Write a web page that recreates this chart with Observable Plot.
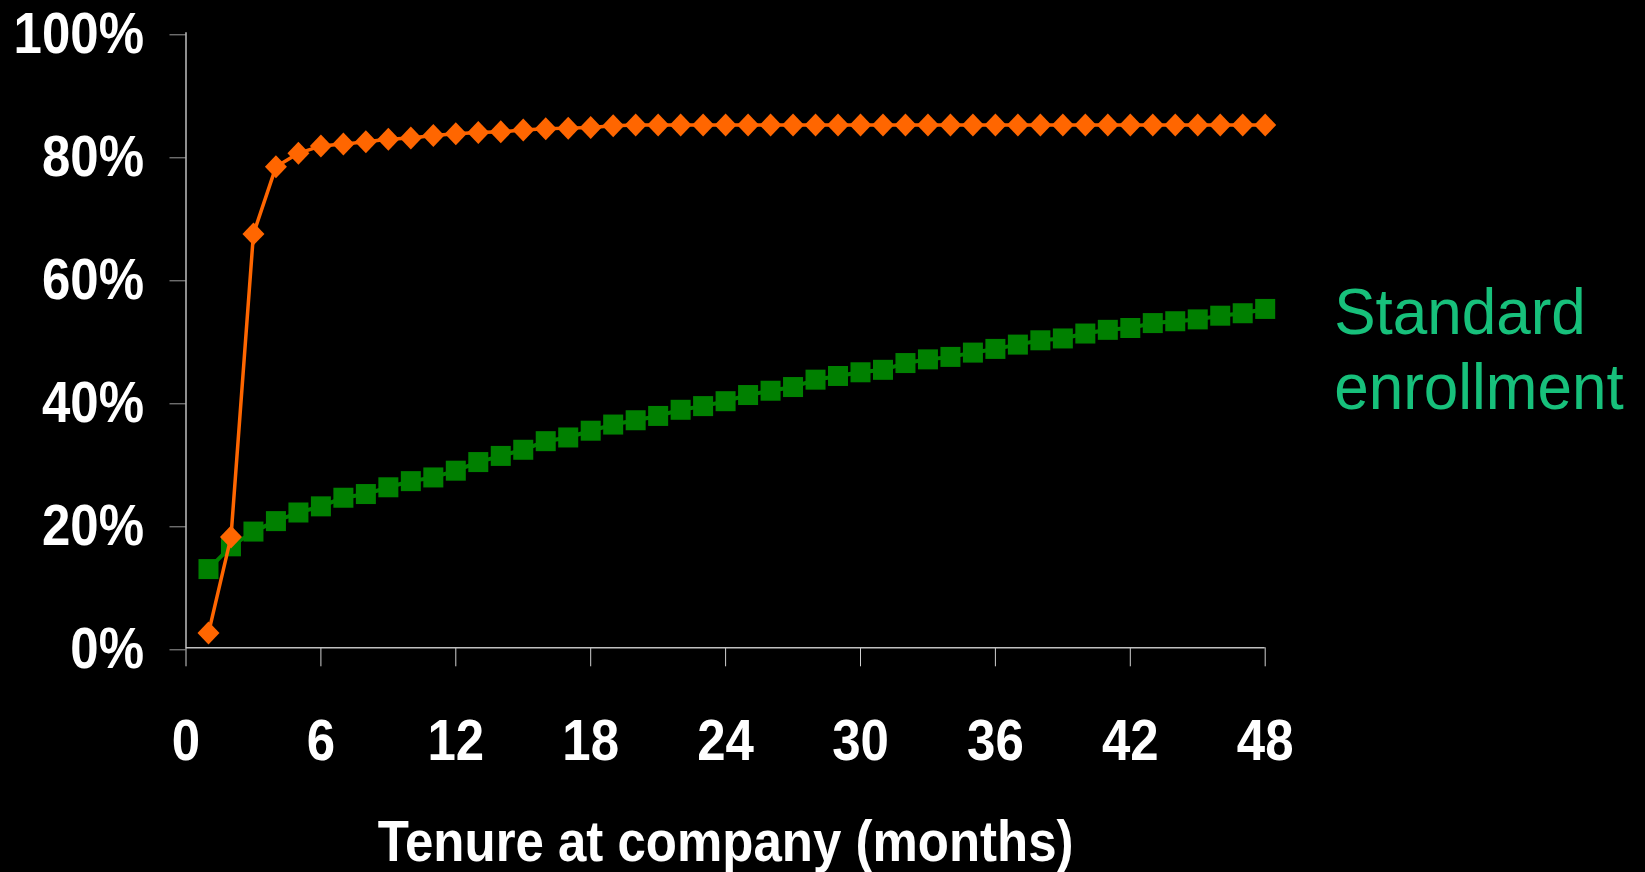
<!DOCTYPE html>
<html>
<head>
<meta charset="utf-8">
<script src="https://cdn.jsdelivr.net/npm/d3@7"></script>
<script src="https://cdn.jsdelivr.net/npm/@observablehq/plot@0.6"></script>
<style>
  html, body { margin: 0; padding: 0; background: #000; }
  #chart svg { display: block; }
</style>
</head>
<body>
<div id="chart"></div>
<script>
// ---- data ----
const months = [1,2,3,4,5,6,7,8,9,10,11,12,13,14,15,16,17,18,19,20,21,22,23,24,
                25,26,27,28,29,30,31,32,33,34,35,36,37,38,39,40,41,42,43,44,45,46,47,48];
const autoValues = [2.4,18.0,67.3,78.2,80.4,81.6,81.9,82.3,82.7,82.9,83.3,83.6,83.8,83.9,84.2,84.4,
                    84.5,84.6,84.9,85.0,85.0,85.0,85.0,85.0,85.0,85.0,85.0,85.0,85.0,85.0,85.0,85.0,
                    85.0,85.0,85.0,85.0,85.0,85.0,85.0,85.0,85.0,85.0,85.0,85.0,85.0,85.0,85.0,85.0];
const standardValues = [12.8,16.5,18.9,20.6,22.0,23.0,24.4,25.0,26.1,27.1,27.7,28.8,30.2,31.2,32.2,33.6,
                        34.2,35.3,36.3,37.0,37.7,38.7,39.3,40.1,41.1,41.8,42.4,43.6,44.2,44.8,45.2,46.3,
                        46.9,47.3,48.0,48.6,49.3,50.0,50.3,51.1,51.7,52.0,52.8,53.1,53.4,54.0,54.4,55.1];
const xTicks = [0,6,12,18,24,30,36,42,48];
const yTicks = [0,20,40,60,80,100];
const xLabel = "Tenure at company (months)";
const standardLabel = "Standard\nenrollment";

// ---- tables ----
const autoData = months.map((m, i) => ({month: m, value: autoValues[i]}));
const standardData = months.map((m, i) => ({month: m, value: standardValues[i]}));

// ---- symbols ----
const diamondSym = {draw(ctx) { ctx.moveTo(0, -11.5); ctx.lineTo(11, 0); ctx.lineTo(0, 11.5); ctx.lineTo(-11, 0); ctx.closePath(); }};
const squareSym = {draw(ctx) { ctx.moveTo(-10, -10); ctx.lineTo(10, -10); ctx.lineTo(10, 10); ctx.lineTo(-10, 10); ctx.closePath(); }};

const ORANGE = "#ff6600";
const GREEN = "#008000";
const LABEL_GREEN = "#17c07b";

const chart = Plot.plot({
  width: 1645,
  height: 872,
  marginLeft: 185.5,
  marginRight: 380.3,
  marginTop: 32.3,
  marginBottom: 224.7,
  style: {background: "#000", color: "#fff", fontFamily: "'Liberation Sans', Arial, sans-serif"},
  x: {domain: [0, 48], label: null},
  y: {domain: [0, 100], label: null},
  marks: [
    Plot.axisY({ticks: yTicks, tickFormat: d => d + "%", tickSize: 16, tickPadding: 26, dy: 2,
                fontSize: 51, fontWeight: "bold", fill: "#fff", stroke: "#9a9a9a", label: null}),
    Plot.axisX({ticks: xTicks, tickFormat: d => String(d), tickSize: 19, tickPadding: 53,
                fontSize: 51, fontWeight: "bold", fill: "#fff", stroke: "#d0d0d0", label: null}),
    Plot.ruleY([0], {stroke: "#c0c0c0", strokeWidth: 1.5}),
    Plot.ruleX([0], {stroke: "#eeeeee", strokeWidth: 1.2}),
    Plot.line(standardData, {x: "month", y: "value", stroke: GREEN, strokeWidth: 4}),
    Plot.dot(standardData, {x: "month", y: "value", symbol: squareSym, fill: GREEN, stroke: "none", r: 10}),
    Plot.line(autoData, {x: "month", y: "value", stroke: ORANGE, strokeWidth: 3.5}),
    Plot.dot(autoData, {x: "month", y: "value", symbol: diamondSym, fill: ORANGE, stroke: "none", r: 10}),
    Plot.text([xLabel], {text: d => d, frameAnchor: "bottom", lineAnchor: "middle", dy: 195,
                         fontSize: 51, fontWeight: "bold", fill: "#fff"}),
    Plot.text([standardLabel], {text: d => d, frameAnchor: "top-right", textAnchor: "start",
                                lineAnchor: "top", lineHeight: 1.14, dx: 69, dy: 247.8,
                                fontSize: 62, fill: LABEL_GREEN})
  ]
});

// stretch text vertically (the reference lettering is taller than it is wide)
function stretch(selection, s) {
  selection.each(function() {
    const t = this.getAttribute("transform") || "";
    this.setAttribute("transform", `${t} scale(1,${s})`);
  });
}
stretch(d3.select(chart).selectAll('[font-weight="bold"] text'), 1.11);
stretch(d3.select(chart).selectAll('[font-size="62"] text'), 1.06);

document.getElementById("chart").appendChild(chart);
</script>
</body>
</html>
